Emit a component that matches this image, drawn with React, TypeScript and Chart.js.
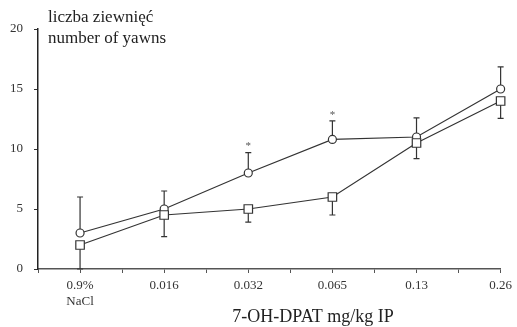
import React, { useEffect, useRef } from "react";
import { Chart, registerables } from "chart.js";

Chart.register(...registerables);

const xTickLabels: (string | string[])[] = [["0.9%", "NaCl"], "0.016", "0.032", "0.065", "0.13", "0.26"];
const circleValues = [3, 5, 8, 10.8, 11, 15];
const circleErrUp = [3, 1.5, 1.7, 1.55, 1.6, 1.85];
const squareValues = [2, 4.5, 5, 6, 10.5, 14];
const squareErrDown = [2, 1.8, 1.1, 1.5, 1.3, 1.45];
const significance = ["", "", "*", "*", "", ""];
const yTitleLines = ["liczba ziewnięć", "number of yawns"];
const xTitle = "7-OH-DPAT mg/kg IP";

const FONT = '"Liberation Serif", "Times New Roman", serif';
const INK = "#333";

export default function App() {
  const ref = useRef<HTMLCanvasElement | null>(null);

  useEffect(() => {
    if (!ref.current) return;

    const errorPlugin = {
      id: "errorbars",
      beforeDatasetsDraw(chart: any) {
        const { ctx, scales } = chart;
        const xs = scales.x;
        const ys = scales.y;
        ctx.save();
        ctx.strokeStyle = INK;
        ctx.lineWidth = 1.2;
        const cap = 3;
        circleValues.forEach((v, i) => {
          const x = xs.getPixelForValue(i);
          const y0 = ys.getPixelForValue(v);
          const y1 = ys.getPixelForValue(v + circleErrUp[i]);
          ctx.beginPath();
          ctx.moveTo(x, y0);
          ctx.lineTo(x, y1);
          ctx.moveTo(x - cap, y1);
          ctx.lineTo(x + cap, y1);
          ctx.stroke();
        });
        squareValues.forEach((v, i) => {
          const x = xs.getPixelForValue(i);
          const y0 = ys.getPixelForValue(v);
          const y1 = ys.getPixelForValue(v - squareErrDown[i]);
          ctx.beginPath();
          ctx.moveTo(x, y0);
          ctx.lineTo(x, y1);
          ctx.moveTo(x - cap, y1);
          ctx.lineTo(x + cap, y1);
          ctx.stroke();
        });
        ctx.restore();
      },
      afterDraw(chart: any) {
        const { ctx, scales } = chart;
        const xs = scales.x;
        const ys = scales.y;
        ctx.save();
        ctx.fillStyle = "#555";
        ctx.font = `11px ${FONT}`;
        ctx.textAlign = "center";
        ctx.textBaseline = "middle";
        significance.forEach((s, i) => {
          if (!s) return;
          const x = xs.getPixelForValue(i);
          const y = ys.getPixelForValue(circleValues[i] + circleErrUp[i]) - 6;
          ctx.fillText(s, x, y);
        });
        ctx.fillStyle = "#222";
        ctx.textAlign = "left";
        ctx.textBaseline = "alphabetic";
        ctx.font = `17px ${FONT}`;
        yTitleLines.forEach((t, k) => ctx.fillText(t, 48, 22 + k * 21));
        ctx.font = `18px ${FONT}`;
        ctx.textAlign = "center";
        ctx.fillText(xTitle, 313, 322);
        ctx.restore();
      },
    };

    const chart = new Chart(ref.current, {
      type: "line",
      data: {
        datasets: [
          {
            data: squareValues.map((v, i) => ({ x: i, y: v })),
            borderColor: INK,
            borderWidth: 1.2,
            pointStyle: "rect",
            pointRadius: 6,
            pointBackgroundColor: "#fff",
            pointBorderColor: INK,
            pointBorderWidth: 1.2,
          },
          {
            data: circleValues.map((v, i) => ({ x: i, y: v })),
            borderColor: INK,
            borderWidth: 1.2,
            pointStyle: "circle",
            pointRadius: 4,
            pointBackgroundColor: "#fff",
            pointBorderColor: INK,
            pointBorderWidth: 1.2,
          },
        ],
      },
      options: {
        responsive: false,
        animation: false,
        clip: false as any,
        layout: { padding: { top: 29, right: 12, left: 0, bottom: 0 } },
        plugins: { legend: { display: false }, tooltip: { enabled: false }, title: { display: false } },
        scales: {
          x: {
            type: "linear",
            min: -0.5,
            max: 5,
            afterFit: (s: any) => {
              s.height = 58;
            },
            afterBuildTicks: (s: any) => {
              const t = [];
              for (let v = -0.5; v <= 5.001; v += 0.5) t.push({ value: v });
              s.ticks = t;
            },
            ticks: {
              autoSkip: false,
              maxRotation: 0,
              color: INK,
              font: { family: FONT, size: 13 },
              padding: 5,
              callback: (v: any) => {
                const n = Number(v);
                return Number.isInteger(n) && n >= 0 ? (xTickLabels[n] as any) : "";
              },
            },
            grid: { drawOnChartArea: false, drawTicks: true, tickLength: 4, color: "#555", lineWidth: 1 },
            border: { color: "#555", width: 1.5 },
          },
          y: {
            min: 0,
            max: 20,
            afterFit: (s: any) => {
              s.width = 38;
            },
            ticks: {
              stepSize: 5,
              color: INK,
              font: { family: FONT, size: 13 },
              padding: 11,
            },
            grid: { drawOnChartArea: false, drawTicks: true, tickLength: 4, color: "#333", lineWidth: 1 },
            border: { color: "#222", width: 1.5 },
          },
        },
      },
      plugins: [errorPlugin],
    });
    return () => chart.destroy();
  }, []);

  return (
    <div style={{ position: "fixed", left: 0, top: 0, width: 517, height: 327, background: "#fff" }}>
      <canvas ref={ref} width={517} height={327} style={{ display: "block" }} />
    </div>
  );
}
